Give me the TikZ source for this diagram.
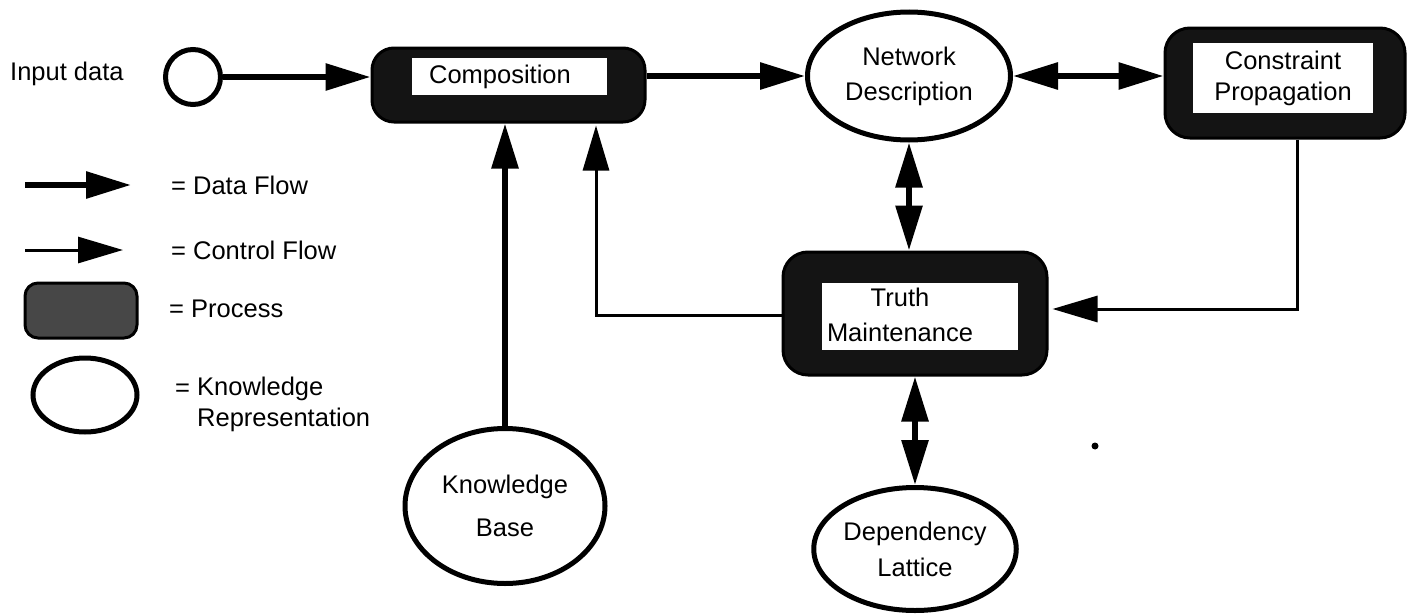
\documentclass[tikz,border=0pt]{standalone}
\usepackage{fontspec}
\setmainfont{Liberation Sans}
\usetikzlibrary{arrows.meta,shapes.geometric,calc}
\begin{document}
\begin{tikzpicture}[x=1pt,y=-1pt,
  txt/.style={font=\fontsize{25.5}{31}\selectfont, inner sep=0pt, align=center},
  >={Triangle[length=45pt,width=26pt]},
  data/.style={line width=6pt,->},
  ctrl/.style={line width=3pt,->},
  dbl/.style={line width=6pt,<->},
  proc/.style={draw=black,line width=3pt,fill=black!92,rounded corners=22pt,inner sep=0pt},
  inbox/.style={fill=white,inner sep=0pt},
  kr/.style={ellipse,draw=black,line width=5pt,fill=white,inner sep=0pt,txt}]

\useasboundingbox (0,0) rectangle (1410,613);

% input
\node[txt,anchor=west] (inlabel) at (10,74) {Input data};
\node[circle,draw=black,line width=5pt,minimum size=55pt,inner sep=0pt] (inp) at (193,77) {};

% composition
\node[proc,minimum width=273pt,minimum height=74pt] (comp) at (508.5,85) {};
\node[inbox,minimum width=195pt,minimum height=37pt] (compin) at (509.5,76.5) {};
\node[txt] (comptxt) at (500,77) {Composition};

% network description
\node[kr,minimum width=203pt,minimum height=128pt] (net) at (909,76) {Network\\[4pt]Description};

% constraint propagation
\node[proc,minimum width=240pt,minimum height=110pt,rounded corners=25pt] (cp) at (1285,83) {};
\node[inbox,minimum width=180pt,minimum height=70pt] (cpin) at (1283,78) {};
\node[txt] (cptxt) at (1283,78) {Constraint\\Propagation};

% truth maintenance
\node[proc,minimum width=264pt,minimum height=123pt,rounded corners=25pt] (tm) at (915,313.5) {};
\node[inbox,minimum width=196pt,minimum height=67pt] (tmin) at (920,316.5) {};
\node[txt] (tmtxt) at (900,315) {Truth\\[4pt]Maintenance};

% knowledge base, dependency lattice
\node[kr,minimum width=200pt,minimum height=155pt] (kb) at (505,506) {Knowledge\\[12pt]Base};
\node[kr,minimum width=200pt,minimum height=123pt] (dl) at (915,549) {Dependency\\[5pt]Lattice};

% connectors
\draw[data] (inp.east) -- (inp.east -| comp.west);
\draw[data] (comp.east |- net.west) -- (net.west);
\draw[dbl] (net.east) -- (net.east -| cp.west);
\draw[dbl] (net.south) -- (net.south |- tm.north);
\draw[dbl] (tm.south -| dl.north) -- (dl.north);
\draw[data] (kb.north) -- (kb.north |- comp.south);
\coordinate (fb) at (596,315);
\draw[ctrl,shorten >=2pt] (tm.west |- fb) -- (fb) -- (fb |- comp.south);
\coordinate (cpd) at (1297,309);
\draw[ctrl,shorten >=4pt] (cpd |- cp.south) -- (cpd) -- (cpd -| tm.east);

% stray dot
\fill (1095,446) circle (3.5);

% legend
\coordinate (dfa) at (25,185); \coordinate (dfb) at (131,185);
\draw[data] (dfa) -- (dfb);
\node[txt,anchor=west] (dflab) at (171,185) {= Data Flow};
\coordinate (cfa) at (25,250); \coordinate (cfb) at (123,250);
\draw[ctrl] (cfa) -- (cfb);
\node[txt,anchor=west] (cflab) at (171,250) {= Control Flow};
\node[proc,fill=black!72,minimum width=112pt,minimum height=55pt,rounded corners=13pt] (lproc) at (81,310.5) {};
\node[txt,anchor=west] (plab) at (169,309) {= Process};
\node[ellipse,draw=black,line width=5pt,minimum width=104pt,minimum height=74pt,inner sep=0pt] (lkr) at (85,395) {};
\node[txt,anchor=west] (kreq) at (175,390) {=};
\node[txt,anchor=west,align=left] (krlab) at (197,404) {Knowledge\\Representation};
\end{tikzpicture}
\end{document}
